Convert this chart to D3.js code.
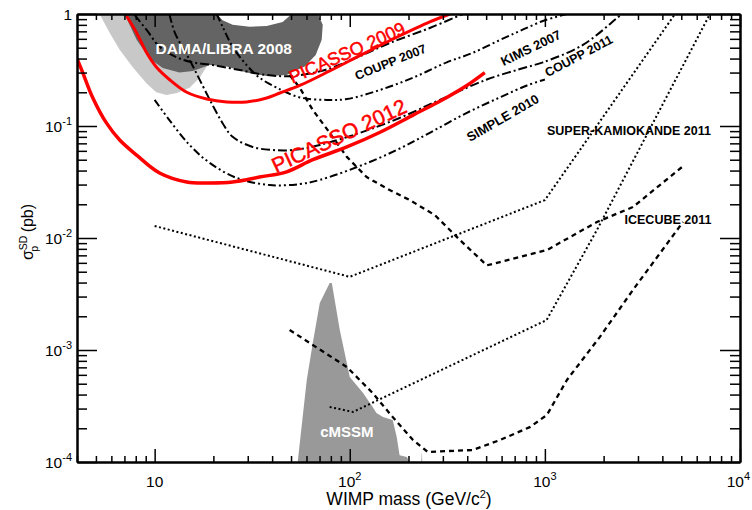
<!DOCTYPE html>
<html><head><meta charset="utf-8">
<script src="https://cdn.jsdelivr.net/npm/d3@7"></script>
<style>
body{margin:0;background:#fff}
svg{display:block}
text{font-family:"Liberation Sans",Arial,Helvetica,sans-serif}
</style>
</head><body>
<svg id="c" width="752" height="510"></svg>
<script>
// ---------- data ----------
const massDomain = [4, 10000];
const sigmaDomain = [1e-4, 1];
const xMajorTicks = [10, 100, 1000, 10000];
const xTickLabels = [["10",""],["10","2"],["10","3"],["10","4"]];
const yMajorTicks = [1, 0.1, 0.01, 0.001, 0.0001];
const yTickLabels = [["1",""],["10","-1"],["10","-2"],["10","-3"],["10","-4"]];

// regions [mass GeV, sigma pb]
const damaLight = [[5.22,1.05],[5.22,1],[5.88,0.68],[6.62,0.48],[7.71,0.336],[9.10,0.24],[10.2,0.20],[11.5,0.189],[13.0,0.197],[15.1,0.22],[17.0,0.27],[18.5,0.34],[19.4,0.37],[17.0,1],[17.0,1.05]];
const damaDark = [[7.01,1.05],[20.8,1.05],[20.8,1],[22.3,0.88],[25.1,0.80],[30.7,0.77],[37.5,0.78],[45.3,0.85],[50.4,1],[50.4,1.05],[68.6,1.05],[68.6,1],[72.7,0.80],[71.8,0.59],[66.9,0.43],[58.8,0.34],[52.2,0.31],[47.5,0.285],[37.5,0.28],[29.6,0.30],[23.4,0.34],[19.1,0.35],[15.7,0.31],[13.4,0.30],[11.0,0.33],[9.42,0.40],[8.08,0.59],[7.01,1]];
const cmssm = [[54.1,0.00009],[54.1,0.0001],[60.2,0.00054],[64.6,0.00115],[70.2,0.00263],[78.9,0.00396],[80.9,0.00396],[88.9,0.00151],[100,0.000574],[117,0.000413],[131,0.00031],[137,0.000274],[148,0.000252],[166,0.000237],[174,0.000167],[180,0.000115],[196,0.000111],[203,0.0001],[203,0.00009]];
const cmssmSpike = [[232,0.00009],[234,0.000125],[236,0.00009]];

// limit curves [mass GeV, sigma pb]
const picasso2009 = [[7.18,0.96],[8.08,0.68],[9.10,0.45],[10.2,0.336],[11.9,0.26],[14.6,0.20],[18.5,0.174],[23.4,0.164],[29.6,0.164],[37.5,0.178],[43.8,0.197],[55.4,0.23],[78.9,0.31],[117,0.44],[174,0.62],[257,0.85],[326,1.0]];
const picasso2012 = [[4.0,0.40],[4.28,0.30],[4.81,0.18],[5.67,0.106],[6.62,0.075],[8.08,0.055],[10.6,0.038],[14.6,0.0316],[19.1,0.031],[25.1,0.0316],[34.5,0.035],[47.5,0.039],[64.6,0.050],[96.6,0.065],[143,0.088],[211,0.125],[314,0.18],[398,0.23],[492,0.30]];
const coupp2007 = [[7.89,0.98],[9.10,0.72],[10.6,0.51],[13.0,0.41],[15.7,0.37],[19.8,0.35],[27.3,0.316],[37.5,0.285],[51.0,0.28],[74.5,0.316],[109,0.41],[160,0.55],[257,0.75],[380,1.0]];
const kims2007 = [[20.8,1.0],[22.3,0.77],[25.1,0.51],[29.6,0.35],[34.5,0.27],[42.2,0.22],[55.4,0.18],[76.2,0.171],[96.6,0.174],[143,0.21],[211,0.27],[314,0.37],[427,0.45],[588,0.586],[745,0.705],[977,0.866],[1297,1.0]];
const coupp2011 = [[11.9,1.0],[12.7,0.68],[15.1,0.39],[17.6,0.23],[19.8,0.154],[22.3,0.106],[25.1,0.080],[31.8,0.065],[40.3,0.061],[51.0,0.061],[70.2,0.0677],[113,0.087],[180,0.118],[289,0.171],[504,0.26],[809,0.336],[977,0.37],[1567,0.53],[2340,0.92],[2483,1.0]];
const simple2010 = [[10,0.171],[11.9,0.113],[15.1,0.0677],[19.1,0.047],[26.4,0.0343],[38.9,0.0297],[55.4,0.0303],[70.2,0.033],[109,0.043],[174,0.061],[257,0.087],[398,0.131],[588,0.18],[809,0.23],[1000,0.26]];
const superKbb = [[10,0.0128],[100,0.0045],[1000,0.0218],[4645,1.0]];
const superKww = [[78.9,0.00031],[104,0.00028],[1020,0.00185],[1849,0.0118],[7015,1.0]];
const icecubeBb = [[49.2,0.285],[55.4,0.22],[64.6,0.139],[78.9,0.087],[96.6,0.053],[122,0.035],[160,0.0268],[203,0.0218],[273,0.016],[367,0.0096],[504,0.0057],[588,0.0061],[1024,0.0078],[1849,0.0139],[2825,0.0189],[5045,0.043]];
const icecubeWw = [[49.2,0.00151],[64.6,0.00111],[96.6,0.000705],[131,0.000413],[166,0.000252],[211,0.000157],[251,0.000123],[427,0.000128],[588,0.000157],[838,0.000205],[1024,0.000263],[1297,0.00054],[1914,0.00131],[2825,0.00343],[5105,0.0139]];

// ---------- drawing ----------
const svg = d3.select("#c");
const L = 77, R = 740, T = 14, B = 462;
const x = d3.scaleLog().domain(massDomain).range([L, R]);
const y = d3.scaleLog().domain(sigmaDomain).range([B, T]);

svg.append("clipPath").attr("id","clip").append("rect")
  .attr("x",L).attr("y",T).attr("width",R-L).attr("height",B-T);
const g = svg.append("g").attr("clip-path","url(#clip)");

const lin = d3.line().x(d=>x(d[0])).y(d=>y(d[1]));
const smooth = d3.line().x(d=>x(d[0])).y(d=>y(d[1])).curve(d3.curveCatmullRom.alpha(0.5));

// regions
[[damaLight,"#c8c8c8"],[damaDark,"#646464"],[cmssm,"#999999"],[cmssmSpike,"#999999"]].forEach(([d,c])=>{
  g.append("path").attr("d", lin(d)+"Z").attr("fill",c).attr("stroke","none");
});

const series = [
  {d: coupp2007, dash:"9,3,2,3", w:2, c:"#000", s:smooth},
  {d: kims2007, dash:"8,3,2,3,2,3", w:2, c:"#000", s:smooth},
  {d: coupp2011, dash:"9,3,2,3", w:2, c:"#000", s:smooth},
  {d: simple2010, dash:"8,3,2,3,2,3", w:2, c:"#000", s:smooth},
  {d: superKbb, dash:"2,2.5", w:2, c:"#000", s:lin},
  {d: superKww, dash:"2,2.5", w:2, c:"#000", s:lin},
  {d: icecubeBb, dash:"5,4", w:2.3, c:"#000", s:lin},
  {d: icecubeWw, dash:"5,4", w:2.3, c:"#000", s:lin},
  {d: picasso2009, dash:null, w:3, c:"#ff0000", s:smooth},
  {d: picasso2012, dash:null, w:3.5, c:"#ff0000", s:smooth}
];
series.forEach(sr=>{
  g.append("path").attr("d", sr.s(sr.d)).attr("fill","none")
   .attr("stroke",sr.c).attr("stroke-width",sr.w)
   .attr("stroke-dasharray",sr.dash).attr("stroke-linejoin","round");
});

// annotations (anchored in data coordinates)
const notes = [
  {t:"DAMA/LIBRA 2008", m:22.6, s:0.487, r:0, c:"#fff", fs:15.5, fw:"bold"},
  {t:"cMSSM", m:96.6, s:0.000189, r:0, c:"#fff", fs:15, fw:"bold"},
  {t:"PICASSO 2009", m:97.0, s:0.45, r:-24, c:"#ff0000", fs:18, fw:"normal", sw:0.5},
  {t:"PICASSO 2012", m:88, s:0.082, r:-25, c:"#ff0000", fs:21, fw:"normal", sw:0.5},
  {t:"COUPP 2007", m:162, s:0.37, r:-22, c:"#000", fs:12.5, fw:"bold"},
  {t:"KIMS 2007", m:847, s:0.497, r:-26, c:"#000", fs:13, fw:"bold"},
  {t:"COUPP 2011", m:1493, s:0.42, r:-28, c:"#000", fs:12.5, fw:"bold"},
  {t:"SIMPLE 2010", m:609, s:0.118, r:-30, c:"#000", fs:13, fw:"bold"},
  {t:"SUPER-KAMIOKANDE 2011", m:2697, s:0.090, r:0, c:"#000", fs:12.5, fw:"bold"},
  {t:"ICECUBE 2011", m:4274, s:0.0145, r:0, c:"#000", fs:12.5, fw:"bold"}
];
notes.forEach(n=>{
  const px=x(n.m), py=y(n.s);
  const t = svg.append("text").attr("x",px).attr("y",py)
    .attr("transform",`rotate(${n.r},${px},${py})`)
    .attr("text-anchor","middle").attr("dominant-baseline","central")
    .attr("fill",n.c).attr("font-size",n.fs).attr("font-weight",n.fw).text(n.t);
  if(n.sw) t.attr("stroke",n.c).attr("stroke-width",n.sw);
});

// axes
function minorTicks(lo, hi){
  const out=[];
  for(let e=Math.floor(Math.log10(lo)); e<=Math.ceil(Math.log10(hi)); e++){
    for(let k=2;k<=9;k++){const v=k*Math.pow(10,e); if(v>lo*1.0001 && v<hi*0.9999) out.push(v);}
  }
  return out;
}
const xMinor = minorTicks(massDomain[0]*0.99, massDomain[1]);
const yMinor = minorTicks(sigmaDomain[0], sigmaDomain[1]);
function styleAxis(sel){
  sel.selectAll("path.domain").attr("stroke","#000").attr("stroke-width",2);
  sel.selectAll(".tick line").attr("stroke","#000").attr("stroke-width",1.5);
  sel.selectAll(".tick text").remove();
}
const axes = [
  [d3.axisBottom(x), `translate(0,${B})`, xMajorTicks, -13],
  [d3.axisBottom(x), `translate(0,${B})`, xMinor, -6],
  [d3.axisTop(x), `translate(0,${T})`, xMajorTicks, -13],
  [d3.axisTop(x), `translate(0,${T})`, xMinor, -6],
  [d3.axisLeft(y), `translate(${L},0)`, yMajorTicks, -20],
  [d3.axisLeft(y), `translate(${L},0)`, yMinor, -10],
  [d3.axisRight(y), `translate(${R},0)`, yMajorTicks, -20],
  [d3.axisRight(y), `translate(${R},0)`, yMinor, -10]
];
axes.forEach(([ax,tr,vals,size])=>{
  const a = svg.append("g").attr("transform",tr)
    .call(ax.tickValues(vals).tickSize(size).tickSizeOuter(0).tickFormat(()=>""));
  styleAxis(a);
});

// tick labels
xMajorTicks.forEach((v,i)=>{
  const [b,e]=xTickLabels[i];
  const last = i===xMajorTicks.length-1;
  const t=svg.append("text").attr("x",last?750:x(v)).attr("y",486.5)
    .attr("text-anchor",last?"end":"middle")
    .attr("font-size",15.5).attr("fill","#000");
  t.append("tspan").text(b);
  if(e) t.append("tspan").attr("dy",-7).attr("font-size",11).text(e);
});
yMajorTicks.forEach((v,i)=>{
  const [b,e]=yTickLabels[i];
  const t=svg.append("text").attr("x",72).attr("y",y(v)+6).attr("text-anchor","end")
    .attr("font-size",15.5).attr("fill","#000");
  t.append("tspan").text(b);
  if(e) t.append("tspan").attr("dy",-7).attr("font-size",11).text(e);
});

// axis titles
const xt = svg.append("text").attr("x",409).attr("y",505).attr("text-anchor","middle")
  .attr("font-size",17.5).attr("fill","#000");
xt.append("tspan").text("WIMP mass (GeV/c");
xt.append("tspan").attr("dy",-7).attr("font-size",11).text("2");
xt.append("tspan").attr("dy",7).text(")");

const yt = svg.append("text").attr("transform","translate(33,232) rotate(-90)")
  .attr("text-anchor","middle").attr("font-size",16).attr("fill","#000");
yt.append("tspan").text("σ");
yt.append("tspan").attr("dy",-6).attr("font-size",10.5).text("SD");
yt.append("tspan").attr("dx",-16).attr("dy",11).attr("font-size",10.5).text("p");
yt.append("tspan").attr("dx",9).attr("dy",-5).text(" (pb)");
</script>
</body></html>
